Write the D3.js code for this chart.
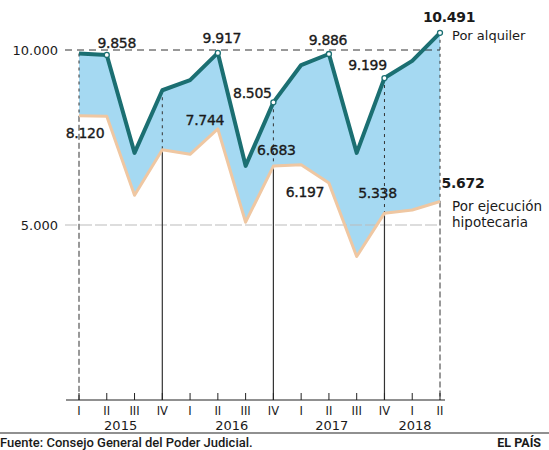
<!DOCTYPE html>
<html>
<head>
<meta charset="utf-8">
<script src="https://cdn.jsdelivr.net/npm/d3@7"></script>
<style>
  body { margin: 0; background: #fff; }
  svg text { font-family: "DejaVu Sans", sans-serif; fill: #1a1a1a; }
</style>
</head>
<body>
<div id="chart"></div>
<script>
// quarters 2015 I .. 2018 II
const quarters = ["I","II","III","IV","I","II","III","IV","I","II","III","IV","I","II"];
const years = ["2015","2016","2017","2018"];
const yearCenters = [1.5, 5.5, 9.1, 12.1]; // in quarter units
const alquiler = [9900, 9858, 7060, 8850, 9140, 9917, 6690, 8505, 9570, 9886, 7060, 9199, 9690, 10491];
const hipotecaria = [8120, 8110, 5850, 7150, 7020, 7744, 5080, 6683, 6720, 6197, 4100, 5338, 5430, 5672];
const yTicks = [5000, 10000];

const width = 549, height = 450;
const fmt = v => d3.format(",")(v).replace(/,/g, ".");

const svg = d3.select("#chart").append("svg")
    .attr("width", width)
    .attr("height", height);

const x = d3.scalePoint()
    .domain(d3.range(quarters.length))
    .range([79, 440]);
const xq = d3.scaleLinear().domain([0, quarters.length - 1]).range([79, 440]);
const y = d3.scaleLinear()
    .domain([0, 10000])
    .range([400, 50]);

// blue band between the two series
const area = d3.area()
    .x((d, i) => x(i))
    .y0((d, i) => y(hipotecaria[i]))
    .y1(d => y(d));

svg.append("path")
    .datum(alquiler)
    .attr("fill", "#a5d9f2")
    .attr("d", area);

// horizontal grid
svg.append("line")
    .attr("x1", 65).attr("x2", 440)
    .attr("y1", y(10000)).attr("y2", y(10000))
    .attr("stroke", "#333").attr("stroke-width", 1)
    .attr("stroke-dasharray", "7,5");
svg.append("line")
    .attr("x1", 65).attr("x2", 440)
    .attr("y1", y(5000)).attr("y2", y(5000))
    .attr("stroke", "#bbb").attr("stroke-width", 1)
    .attr("stroke-dasharray", "12,3");

svg.selectAll(".ylab")
  .data(yTicks)
  .join("text")
    .attr("x", 58)
    .attr("y", d => y(d) + 5)
    .attr("text-anchor", "end")
    .style("font-size", "13px")
    .text(d => fmt(d));

// vertical leader lines
const vIdx = [0, 3, 7, 11, 13];
vIdx.forEach(i => {
  const full = (i === 0 || i === 13);
  svg.append("line")
      .attr("x1", x(i)).attr("x2", x(i))
      .attr("y1", y(alquiler[i])).attr("y2", y(hipotecaria[i]))
      .attr("stroke", "#333").attr("stroke-width", 1)
      .attr("stroke-dasharray", "3,4");
  svg.append("line")
      .attr("x1", x(i)).attr("x2", x(i))
      .attr("y1", y(hipotecaria[i])).attr("y2", y(0))
      .attr("stroke", "#333").attr("stroke-width", full ? 1 : 1.2)
      .attr("stroke-dasharray", full ? "6,3" : null);
});

// x axis
svg.append("line")
    .attr("x1", 66).attr("x2", 445)
    .attr("y1", y(0)).attr("y2", y(0))
    .attr("stroke", "#222").attr("stroke-width", 1.2);

svg.selectAll(".tick")
  .data(quarters)
  .join("line")
    .attr("x1", (d, i) => x(i)).attr("x2", (d, i) => x(i))
    .attr("y1", y(0)).attr("y2", y(0) - 7)
    .attr("stroke", "#222");

svg.selectAll(".qlab")
  .data(quarters)
  .join("text")
    .attr("x", (d, i) => x(i))
    .attr("y", 415)
    .attr("text-anchor", "middle")
    .style("font-size", "11.5px")
    .text(d => d);

svg.selectAll(".ylabel")
  .data(years)
  .join("text")
    .attr("x", (d, i) => xq(yearCenters[i]))
    .attr("y", 430)
    .attr("text-anchor", "middle")
    .style("font-size", "13px")
    .text(d => d);

// series lines
const line = d3.line().x((d, i) => x(i)).y(d => y(d));

svg.append("path")
    .datum(hipotecaria)
    .attr("fill", "none")
    .attr("stroke", "#efc7a2")
    .attr("stroke-width", 3)
    .attr("stroke-linejoin", "round")
    .attr("d", line);

svg.append("path")
    .datum(alquiler)
    .attr("fill", "none")
    .attr("stroke", "#1b6f72")
    .attr("stroke-width", 4)
    .attr("stroke-linejoin", "round")
    .attr("d", line);

// labels
const tealLabels = [
  {i: 1, dx: 10, dy: -7},
  {i: 5, dx: 4, dy: -10},
  {i: 7, dx: -21, dy: -4},
  {i: 9, dx: -1, dy: -9},
  {i: 11, dx: -17, dy: -8},
  {i: 13, dx: 9, dy: -11, bold: true}
];
const orangeLabels = [
  {i: 0, dx: 6, dy: 22},
  {i: 5, dx: -13, dy: -4},
  {i: 7, dx: 3, dy: -11},
  {i: 9, dx: -24, dy: 14},
  {i: 11, dx: -7, dy: -15},
  {i: 13, dx: 23, dy: -13, bold: true}
];

svg.selectAll(".mk")
  .data(tealLabels)
  .join("circle")
    .attr("cx", d => x(d.i))
    .attr("cy", d => y(alquiler[d.i]))
    .attr("r", 2.5)
    .attr("fill", "#fff")
    .attr("stroke", "#1b6f72")
    .attr("stroke-width", 1.3);

function addLabels(list, values) {
  svg.selectAll(null)
    .data(list)
    .join("text")
      .attr("x", d => x(d.i) + d.dx)
      .attr("y", d => y(values[d.i]) + d.dy)
      .attr("text-anchor", "middle")
      .style("font-size", "14px")
      .style("font-weight", d => d.bold ? "bold" : null)
      .style("letter-spacing", "-0.3px")
      .style("stroke", "#1a1a1a")
      .style("stroke-width", d => d.bold ? 0 : 0.35)
      .text(d => fmt(values[d.i]));
}
addLabels(tealLabels, alquiler);
addLabels(orangeLabels, hipotecaria);

svg.append("text")
    .attr("x", 452).attr("y", 40)
    .style("font-size", "13px")
    .text("Por alquiler");
svg.append("text")
    .attr("x", 452).attr("y", 211)
    .style("font-size", "13.5px")
    .text("Por ejecución");
svg.append("text")
    .attr("x", 452).attr("y", 227)
    .style("font-size", "13.5px")
    .text("hipotecaria");

// footer
svg.append("line")
    .attr("x1", 0).attr("x2", width)
    .attr("y1", 433).attr("y2", 433)
    .attr("stroke", "#222").attr("stroke-width", 1.2);
svg.append("text")
    .attr("x", 0).attr("y", 447)
    .style("font-family", "Roboto, sans-serif")
    .style("font-weight", 500)
    .style("font-size", "13px")
    .text("Fuente: Consejo General del Poder Judicial.");
svg.append("text")
    .attr("x", 541).attr("y", 447)
    .attr("text-anchor", "end")
    .style("font-family", "Roboto, sans-serif")
    .style("font-weight", 700)
    .style("font-size", "12.5px")
    .text("EL PAÍS");
</script>
</body>
</html>
